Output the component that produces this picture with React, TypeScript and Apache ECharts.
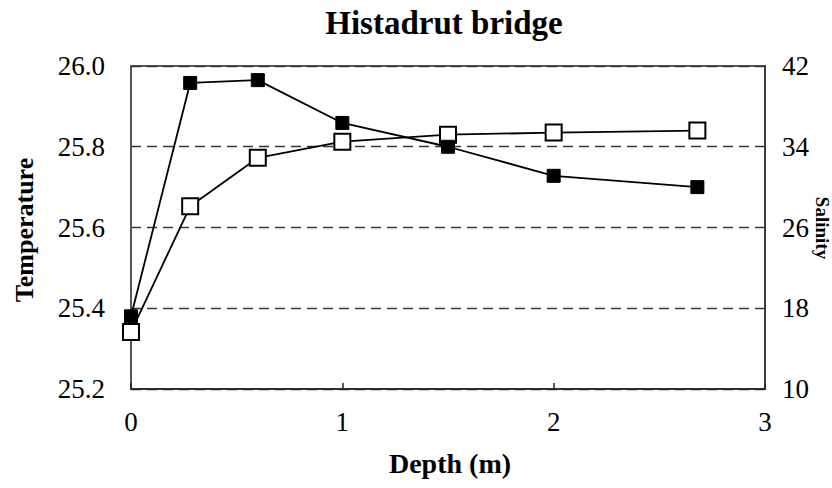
import React, { useEffect, useRef } from "react";
import * as echarts from "echarts";

const depth = [0, 0.28, 0.6, 1.0, 1.5, 2.0, 2.68];
const temperature = [25.38, 25.958, 25.965, 25.859, 25.8, 25.728, 25.7];
const salinity = [15.65, 28.1, 32.9, 34.5, 35.2, 35.4, 35.6];

const titleText = "Histadrut bridge";
const xName = "Depth (m)";
const yLeftName = "Temperature";
const yRightName = "Salinity";

export default function App() {
  const ref = useRef<HTMLDivElement>(null);
  useEffect(() => {
    const chart = echarts.init(ref.current!, null, { renderer: "svg" });
    const font = "Liberation Serif";
    chart.setOption({
      animation: false,
      backgroundColor: "#ffffff",
      textStyle: { fontFamily: font },
      grid: {
        left: 131,
        right: 67,
        top: 66,
        bottom: 99,
        show: true,
        borderColor: "#222",
        borderWidth: 1.5,
      },
      xAxis: {
        type: "value",
        min: 0,
        max: 3,
        interval: 1,
        axisLine: { show: true, lineStyle: { color: "#222", width: 1.5 } },
        axisTick: { show: true, inside: true, length: 6, lineStyle: { color: "#222", width: 1.5 } },
        axisLabel: { fontFamily: font, fontSize: 27, color: "#000", margin: 19 },
        splitLine: { show: false },
      },
      yAxis: [
        {
          type: "value",
          min: 25.2,
          max: 26.0,
          interval: 0.2,
          axisLine: { show: true, lineStyle: { color: "#555", width: 1.5 } },
          axisTick: { show: false },
          axisLabel: {
            fontFamily: font,
            fontSize: 27,
            color: "#000",
            margin: 26,
            formatter: (v: number) => v.toFixed(1),
          },
          splitLine: { show: true, lineStyle: { color: "#333", type: [10, 6], width: 1.3 } },
        },
        {
          type: "value",
          min: 10,
          max: 42,
          interval: 8,
          position: "right",
          axisLine: { show: true, lineStyle: { color: "#333", width: 1.5 } },
          axisTick: { show: false },
          axisLabel: { fontFamily: font, fontSize: 27, color: "#000", margin: 17 },
          splitLine: { show: false },
        },
      ],
      graphic: [
        {
          type: "text",
          x: 444,
          y: 23,
          style: {
            text: titleText,
            fontFamily: font,
            fontWeight: "bold",
            fontSize: 33,
            fill: "#000",
            align: "center",
            verticalAlign: "middle",
          },
        },
        {
          type: "text",
          x: 450,
          y: 463,
          style: {
            text: xName,
            fontFamily: font,
            fontWeight: "bold",
            fontSize: 28,
            fill: "#000",
            align: "center",
            verticalAlign: "middle",
          },
        },
        {
          type: "text",
          x: 24,
          y: 230,
          rotation: Math.PI / 2,
          style: {
            text: yLeftName,
            fontFamily: font,
            fontWeight: "bold",
            fontSize: 26,
            fill: "#000",
            align: "center",
            verticalAlign: "middle",
          },
        },
        {
          type: "text",
          x: 822,
          y: 228,
          rotation: -Math.PI / 2,
          style: {
            text: yRightName,
            fontFamily: font,
            fontWeight: "bold",
            fontSize: 19,
            fill: "#000",
            align: "center",
            verticalAlign: "middle",
          },
        },
      ],
      series: [
        {
          type: "line",
          yAxisIndex: 0,
          data: depth.map((d, i) => [d, temperature[i]]),
          symbol: "rect",
          symbolSize: 13,
          itemStyle: { color: "#000", borderColor: "#000", borderWidth: 1 },
          lineStyle: { color: "#000", width: 1.8 },
          z: 3,
        },
        {
          type: "line",
          yAxisIndex: 1,
          data: depth.map((d, i) => [d, salinity[i]]),
          symbol: "rect",
          symbolSize: 16,
          showAllSymbol: true,
          itemStyle: { color: "#fff", borderColor: "#000", borderWidth: 2 },
          lineStyle: { color: "#000", width: 1.8 },
          z: 2,
        },
      ],
    });
    return () => chart.dispose();
  }, []);
  return <div ref={ref} style={{ width: 832, height: 488, position: "absolute", left: 0, top: 0 }} />;
}
